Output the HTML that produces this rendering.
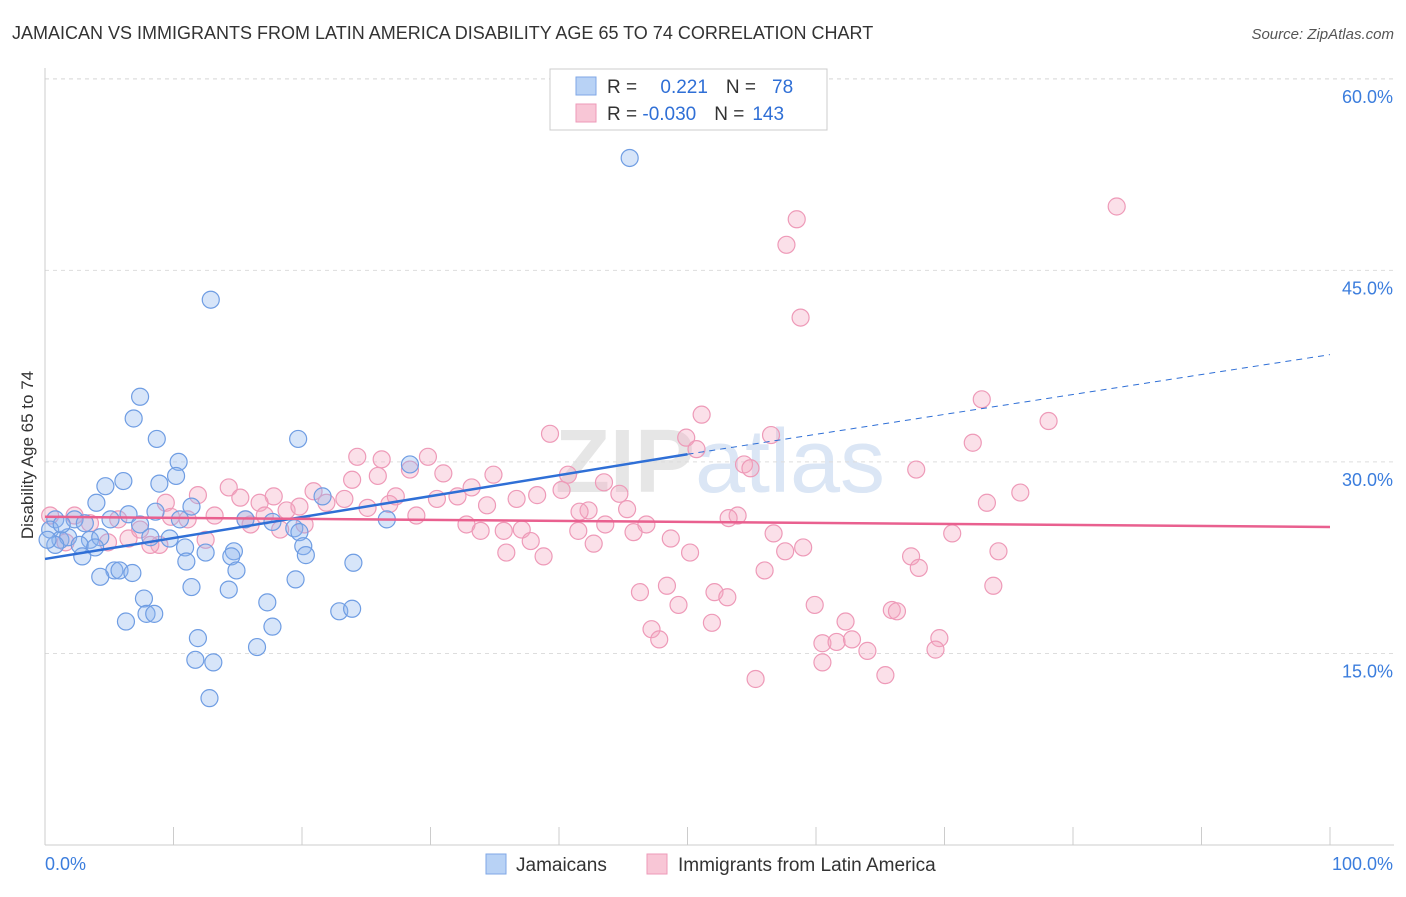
<!DOCTYPE html>
<html><head><meta charset="utf-8"><style>
body{margin:0;background:#fff;font-family:"Liberation Sans",sans-serif;}
svg text{font-family:"Liberation Sans",sans-serif;}
</style></head><body>
<svg id="chart" width="1406" height="892" viewBox="0 0 1406 892" xmlns="http://www.w3.org/2000/svg">
<rect width="1406" height="892" fill="#fff"/>
<text x="12" y="39" font-size="18" fill="#333">JAMAICAN VS IMMIGRANTS FROM LATIN AMERICA DISABILITY AGE 65 TO 74 CORRELATION CHART</text>
<text x="1394" y="39" font-size="15" fill="#555" text-anchor="end" font-style="italic">Source: ZipAtlas.com</text>
<text x="720" y="492" font-size="90" fill="#e6e6e6" text-anchor="middle" font-family="Liberation Serif" font-weight="bold">ZIP<tspan fill="#dbe6f5" font-family="Liberation Sans" font-weight="normal">atlas</tspan></text>
<g id="grid"></g>
<g id="axes"></g>
<g id="marks"></g>
<g id="trend"></g>
<text transform="translate(33,455) rotate(-90)" font-size="17" fill="#333" text-anchor="middle">Disability Age 65 to 74</text>
<g>
<rect x="550" y="69" width="277" height="61" fill="#fff" stroke="#ccc"/>
<rect x="576" y="77" width="20" height="18" fill="#b8d2f5" stroke="#7fa7e6"/>
<rect x="576" y="104" width="20" height="18" fill="#f8c6d6" stroke="#ee9ab8"/>
<text x="607" y="93" font-size="19" fill="#333">R = <tspan fill="#2f6fd6" dx="18">0.221</tspan><tspan fill="#333" dx="18">N =</tspan><tspan fill="#2f6fd6" dx="16">78</tspan></text>
<text x="607" y="120" font-size="19" fill="#333">R = <tspan fill="#2f6fd6">-0.030</tspan><tspan fill="#333" dx="18">N =</tspan><tspan fill="#2f6fd6" dx="8">143</tspan></text>
</g>
<g>
<rect x="486" y="854" width="20" height="20" fill="#b8d2f5" stroke="#7fa7e6"/>
<text x="516" y="871" font-size="19" fill="#333">Jamaicans</text>
<rect x="647" y="854" width="20" height="20" fill="#f8c6d6" stroke="#ee9ab8"/>
<text x="678" y="871" font-size="19" fill="#333">Immigrants from Latin America</text>
</g>
</svg>
<script>
const yTicks=[15,30,45,60];
const yTickLabels=["15.0%","30.0%","45.0%","60.0%"];
const xTickLabels=["0.0%","100.0%"];
const blueX=[45.5,12.9,7.4,6.9,8.7,19.7,10.4,10.2,6.1,4.7,8.9,28.4,4.0,21.6,6.5,5.1,8.6,11.4,26.6,15.6,17.7,0.8,2.3,3.1,0.4,7.4,10.5,19.4,19.8,1.2,1.8,3.5,4.3,8.2,9.7,0.8,2.7,3.9,10.9,20.1,14.7,12.5,2.9,11.0,14.5,20.3,24.0,5.4,5.8,6.8,4.3,14.9,19.5,11.4,14.3,7.7,17.3,22.9,23.9,6.3,7.9,8.5,17.7,11.9,16.5,11.7,13.1,12.8,0.2,1.3];
const blueY=[53.8,42.7,35.1,33.4,31.8,31.8,30.0,28.9,28.5,28.1,28.3,29.8,26.8,27.3,25.9,25.5,26.1,26.5,25.5,25.5,25.3,25.5,25.5,25.2,24.7,25.1,25.5,24.8,24.5,23.9,24.1,23.9,24.1,24.1,24.0,23.5,23.5,23.3,23.3,23.4,23.0,22.9,22.6,22.2,22.6,22.7,22.1,21.5,21.5,21.3,21.0,21.5,20.8,20.2,20.0,19.3,19.0,18.3,18.5,17.5,18.1,18.1,17.1,16.2,15.5,14.5,14.3,11.5,23.9,25.1];
const pinkX=[83.4,58.5,57.7,58.8,72.9,78.1,51.1,39.3,56.5,49.9,72.2,50.7,24.3,26.2,29.8,54.4,54.9,67.8,34.9,40.7,28.4,31.0,23.9,25.9,14.3,20.9,33.2,40.2,43.5,75.9,11.9,15.2,17.8,21.9,23.3,27.3,30.5,32.1,36.7,38.3,44.7,9.4,16.7,18.8,19.8,25.1,26.8,34.4,42.3,45.3,73.3,0.4,2.3,5.7,9.8,11.1,13.2,15.6,17.1,20.2,28.9,41.6,53.9,53.2,32.8,43.6,46.8,33.9,35.7,37.1,45.8,56.7,70.6,41.5,48.7,6.5,8.9,12.5,1.6,4.9,37.8,42.7,59.0,57.6,74.2,50.2,35.9,38.8,67.4,68.0,56.0,73.8,48.4,46.3,52.1,53.1,49.3,59.9,65.9,66.3,51.9,62.3,47.2,47.8,60.5,61.6,62.8,69.6,64.0,69.3,60.5,65.4,55.3,3.5,7.4,8.2,16.0,18.3];
const pinkY=[50.0,49.0,47.0,41.3,34.9,33.2,33.7,32.2,32.1,31.9,31.5,31.0,30.4,30.2,30.4,29.8,29.5,29.4,29.0,29.0,29.4,29.1,28.6,28.9,28.0,27.7,28.0,27.8,28.4,27.6,27.4,27.2,27.3,26.8,27.1,27.3,27.1,27.3,27.1,27.4,27.5,26.8,26.8,26.2,26.5,26.4,26.7,26.6,26.2,26.3,26.8,25.8,25.8,25.5,25.7,25.5,25.8,25.5,25.8,25.1,25.8,26.1,25.8,25.6,25.1,25.1,25.1,24.6,24.6,24.7,24.5,24.4,24.4,24.6,24.0,24.0,23.5,23.9,23.7,23.7,23.8,23.6,23.3,23.0,23.0,22.9,22.9,22.6,22.6,21.7,21.5,20.3,20.3,19.8,19.8,19.4,18.8,18.8,18.4,18.3,17.4,17.5,16.9,16.1,15.8,15.9,16.1,16.2,15.2,15.3,14.3,13.3,13.0,25.2,24.7,23.5,25.1,24.7];
const blueTrend=[22.4,30.6,38.4];
const pinkTrend=[25.7,24.9];
const X0=45,X1=1330,YB=845,PY=12.77;
const sx=v=>X0+(X1-X0)*v/100;
const sy=v=>YB-v*PY;
const NS="http://www.w3.org/2000/svg";
function mk(tag,attrs,parent){const e=document.createElementNS(NS,tag);for(const k in attrs)e.setAttribute(k,attrs[k]);parent.appendChild(e);return e;}
const grid=document.getElementById('grid'),axes=document.getElementById('axes'),marks=document.getElementById('marks'),trend=document.getElementById('trend');
yTicks.forEach((t,i)=>{
 const l=mk('line',{x1:X0,x2:1394,y1:sy(t),y2:sy(t),stroke:'#ddd','stroke-dasharray':'4,4'},grid);
 
 
 const tx=mk('text',{x:1393,y:sy(t)+24,'font-size':18,fill:'#3b7ddd','text-anchor':'end'},axes);
 tx.textContent=yTickLabels[i];
 
 
});
const tl=mk('line',{x1:X0,x2:1394,y1:79,y2:79,stroke:'#ddd','stroke-dasharray':'4,4'},grid);
mk('line',{x1:X0,x2:X0,y1:68,y2:YB,stroke:'#ccc'},axes);
mk('line',{x1:X0,x2:1394,y1:YB,y2:YB,stroke:'#ccc'},axes);
for(let i=0;i<=10;i++){mk('line',{x1:sx(i*10),x2:sx(i*10),y1:YB,y2:YB-18,stroke:'#ccc'},axes);}
const xl0=mk('text',{x:45,y:870,'font-size':18,fill:'#3b7ddd'},axes);xl0.textContent=xTickLabels[0];


const xl1=mk('text',{x:1393,y:870,'font-size':18,fill:'#3b7ddd','text-anchor':'end'},axes);xl1.textContent=xTickLabels[1];


pinkX.forEach((x,i)=>{const c=mk('circle',{cx:sx(x),cy:sy(pinkY[i]),r:8.5,fill:'rgba(244,165,192,0.35)',stroke:'#ee9ab8','stroke-width':1.2},marks);
 
 });
blueX.forEach((x,i)=>{const c=mk('circle',{cx:sx(x),cy:sy(blueY[i]),r:8.5,fill:'rgba(140,180,238,0.35)',stroke:'#6f9de3','stroke-width':1.2},marks);
 
 });
const b1=mk('line',{x1:sx(0),y1:sy(blueTrend[0]),x2:sx(50),y2:sy(blueTrend[1]),stroke:'#2f6fd6','stroke-width':2.5},trend);


const b2=mk('line',{x1:sx(50),y1:sy(blueTrend[1]),x2:sx(100),y2:sy(blueTrend[2]),stroke:'#2f6fd6','stroke-width':1,'stroke-dasharray':'6,5'},trend);


const p1=mk('line',{x1:sx(0),y1:sy(pinkTrend[0]),x2:sx(100),y2:sy(pinkTrend[1]),stroke:'#e9608f','stroke-width':2.5},trend);


</script>
</body></html>
